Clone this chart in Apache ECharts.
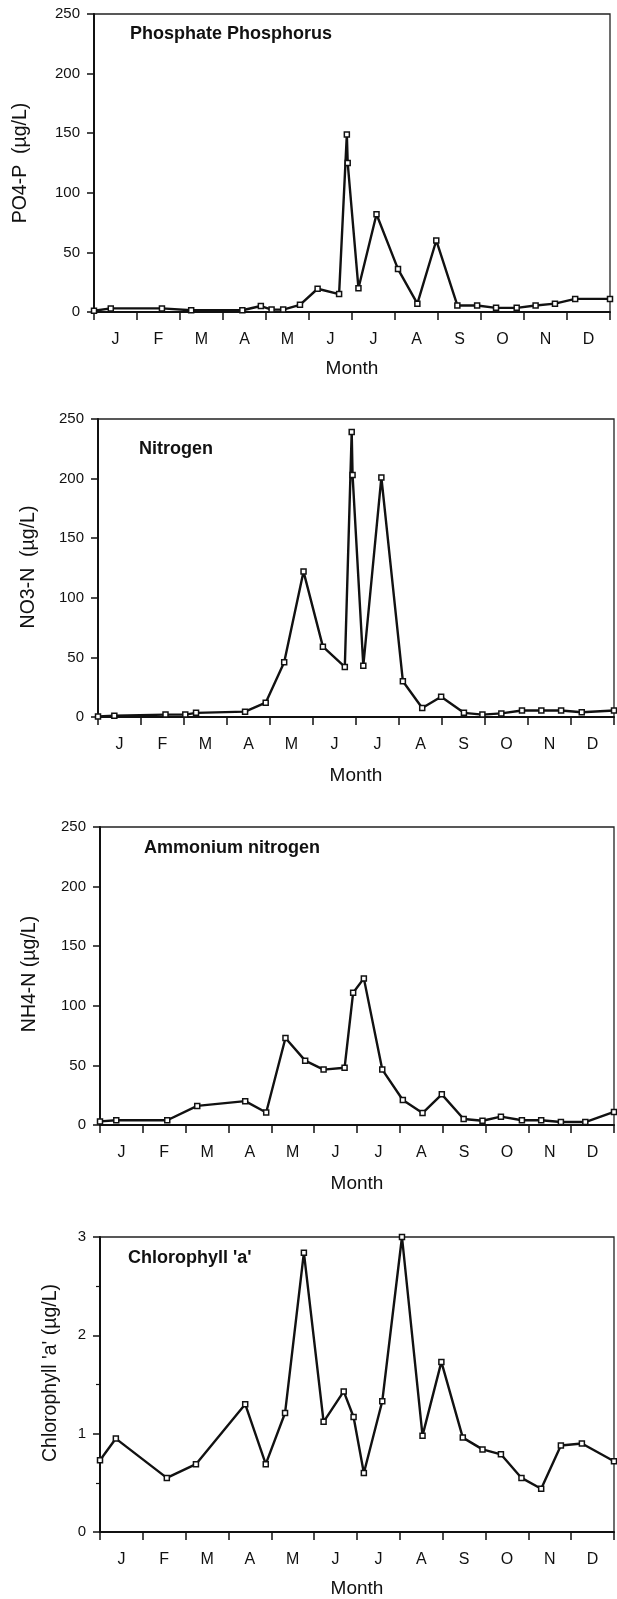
<!DOCTYPE html>
<html>
<head>
<meta charset="utf-8">
<script src="https://cdn.jsdelivr.net/npm/echarts@6/dist/echarts.min.js"></script>
<style>
  html, body { margin: 0; padding: 0; background: #fff; }
  #chart { width: 617px; height: 1599px; }
</style>
</head>
<body>
<div id="chart"></div>
<script>
// Month initials shown under the x axis (one per month, centred in its slot)
const monthLabels = ['J', 'F', 'M', 'A', 'M', 'J', 'J', 'A', 'S', 'O', 'N', 'D'];

// Sample times are in months since 1 January; values in µg/L
const po4Time  = [0, 0.39, 1.58, 2.26, 3.45, 3.88, 4.13, 4.4, 4.79, 5.2, 5.7, 5.88, 5.9, 6.15, 6.57, 7.07, 7.52, 7.96, 8.45, 8.91, 9.35, 9.83, 10.27, 10.72, 11.19, 12];
const po4Value = [1, 3, 3, 1.5, 1.5, 5, 2, 2, 6, 19.5, 15, 149, 125, 20, 82, 36, 7, 60, 5.5, 5.5, 3.5, 3.5, 5.5, 7, 11, 11];

const no3Time  = [0, 0.38, 1.57, 2.03, 2.28, 3.42, 3.9, 4.33, 4.78, 5.23, 5.74, 5.9, 5.92, 6.17, 6.59, 7.09, 7.54, 7.98, 8.51, 8.94, 9.38, 9.86, 10.31, 10.77, 11.25, 12];
const no3Value = [0.5, 1, 2, 2, 3.5, 4.5, 12, 46, 122, 59, 42, 239, 203, 43, 201, 30, 7.5, 17, 3.5, 2, 3, 5.5, 5.5, 5.5, 4, 5.5];

const nh4Time  = [0, 0.38, 1.57, 2.27, 3.39, 3.88, 4.33, 4.79, 5.22, 5.71, 5.91, 6.16, 6.59, 7.07, 7.53, 7.98, 8.49, 8.93, 9.36, 9.85, 10.3, 10.76, 11.33, 12];
const nh4Value = [3, 4, 4, 16, 20, 10.5, 73, 54, 46.5, 48, 111, 123, 46.5, 21, 10, 25.7, 5, 3.6, 7, 4, 4, 2.5, 2.5, 11];

const chlTime  = [0, 0.37, 1.56, 2.24, 3.39, 3.87, 4.32, 4.76, 5.22, 5.69, 5.92, 6.16, 6.59, 7.05, 7.53, 7.97, 8.47, 8.93, 9.36, 9.84, 10.3, 10.76, 11.25, 12];
const chlValue = [0.73, 0.95, 0.55, 0.69, 1.30, 0.69, 1.21, 2.84, 1.12, 1.43, 1.17, 0.6, 1.33, 3.0, 0.98, 1.73, 0.96, 0.84, 0.79, 0.55, 0.44, 0.88, 0.9, 0.72];

// Panel titles and y-axis names
const panelTitles = ['Phosphate Phosphorus', 'Nitrogen', 'Ammonium nitrogen', "Chlorophyll 'a'"];
const yNames = ['PO4-P  (µg/L)', 'NO3-N  (µg/L)', 'NH4-N (µg/L)', "Chlorophyll 'a' (µg/L)"];

const FONT = '"Liberation Sans", Arial, Helvetica, sans-serif';
const INK = '#111';

// Layout of the four stacked panels
const panels = [
  { left: 94,  right: 7, top: 14,   height: 298, max: 250, interval: 50, minor: false, time: po4Time, value: po4Value, titleX: 130, titleY: 34,   nameX: 21, nameY: 163, nameGap: 47 },
  { left: 98,  right: 3, top: 419,  height: 298, max: 250, interval: 50, minor: false, time: no3Time, value: no3Value, titleX: 139, titleY: 449,  nameX: 29, nameY: 567, nameGap: 49 },
  { left: 100, right: 3, top: 827,  height: 298, max: 250, interval: 50, minor: false, time: nh4Time, value: nh4Value, titleX: 144, titleY: 848,  nameX: 30, nameY: 974, nameGap: 49 },
  { left: 100, right: 3, top: 1237, height: 297, max: 3,   interval: 1,  minor: true,  time: chlTime, value: chlValue, titleX: 128, titleY: 1258, nameX: 51, nameY: 1373, nameGap: 47 }
];

const grid = [], xAxis = [], yAxis = [], series = [], graphic = [];

panels.forEach((p, i) => {
  grid.push({
    left: p.left, right: p.right, top: p.top, height: p.height,
    show: true, borderColor: '#222', borderWidth: 1.3, backgroundColor: 'transparent'
  });

  // Month slots: ticks on month boundaries, initials centred between them
  xAxis.push({
    type: 'category', gridIndex: i, data: monthLabels, boundaryGap: true,
    axisLine: { lineStyle: { color: INK, width: 2 } },
    axisTick: { show: true, length: 8, lineStyle: { color: INK, width: 1.5 } },
    axisLabel: { interval: 0, color: INK, fontFamily: FONT, fontSize: 16, margin: 20 },
    name: 'Month', nameLocation: 'middle', nameGap: p.nameGap,
    nameTextStyle: { color: INK, fontFamily: FONT, fontSize: 19 },
    splitLine: { show: false }
  });
  // Continuous time axis (months) carrying the line
  xAxis.push({
    type: 'value', gridIndex: i, min: 0, max: 12, show: false,
    splitLine: { show: false }
  });

  yAxis.push({
    type: 'value', gridIndex: i, min: 0, max: p.max, interval: p.interval,
    axisLine: { show: true, lineStyle: { color: INK, width: 2 } },
    axisTick: { show: true, length: 7, lineStyle: { color: INK, width: 1.5 } },
    minorTick: { show: p.minor, splitNumber: 2, length: 4, lineStyle: { color: INK, width: 1.2 } },
    axisLabel: { color: INK, fontFamily: FONT, fontSize: 15, margin: 14 },
    splitLine: { show: false }
  });

  series.push({
    type: 'line', xAxisIndex: i * 2 + 1, yAxisIndex: i,
    data: p.time.map((t, k) => [t, p.value[k]]),
    symbol: 'rect', symbolSize: 5, clip: false,
    lineStyle: { color: INK, width: 2.4 },
    itemStyle: { color: '#fff', borderColor: INK, borderWidth: 1.5 },
    animation: false
  });

  graphic.push({
    type: 'text', x: p.titleX, y: p.titleY,
    style: { text: panelTitles[i], font: 'bold 18px ' + FONT, fill: INK,
             textAlign: 'left', textVerticalAlign: 'middle', align: 'left', verticalAlign: 'middle' }
  });
  graphic.push({
    type: 'text', x: p.nameX, y: p.nameY, rotation: Math.PI / 2,
    style: { text: yNames[i], font: '19.5px ' + FONT, fill: INK,
             textAlign: 'center', textVerticalAlign: 'middle', align: 'center', verticalAlign: 'middle' }
  });
});

const chart = echarts.init(document.getElementById('chart'), null, { renderer: 'canvas' });
chart.setOption({
  backgroundColor: '#fff',
  animation: false,
  grid, xAxis, yAxis, series, graphic
});
</script>
</body>
</html>
